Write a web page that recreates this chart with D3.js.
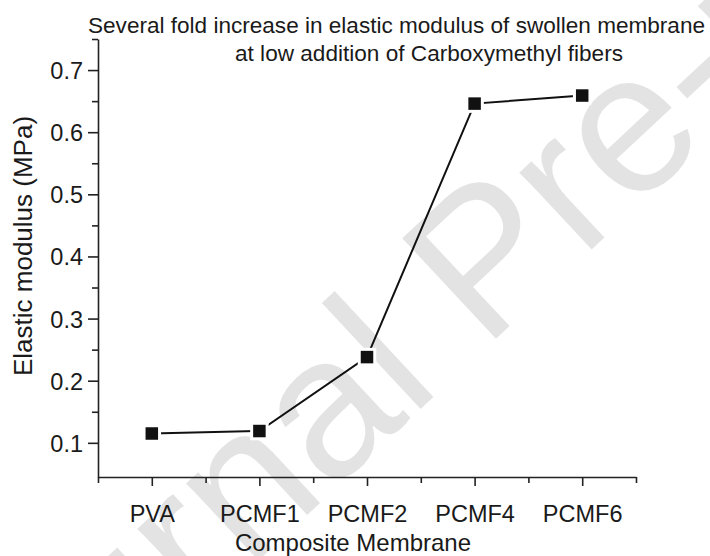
<!DOCTYPE html>
<html>
<head>
<meta charset="utf-8">
<script src="https://cdn.jsdelivr.net/npm/d3@7"></script>
<style>
  body { margin: 0; background: #fff; }
  svg { display: block; font-family: "Liberation Sans", Arial, Helvetica, sans-serif; }
</style>
</head>
<body>
<div id="chart"></div>
<script>
// data
var membranes = ["PVA", "PCMF1", "PCMF2", "PCMF4", "PCMF6"];
var modulus = [0.115, 0.119, 0.238, 0.646, 0.659];
var yTicks = [0.1, 0.2, 0.3, 0.4, 0.5, 0.6, 0.7];
var yMinorTicks = [0.15, 0.25, 0.35, 0.45, 0.55, 0.65, 0.75];
var titleLines = [
  "Several fold increase in elastic modulus of swollen membrane",
  "at low addition of Carboxymethyl fibers"
];
var xTitle = "Composite Membrane";
var yTitle = "Elastic modulus (MPa)";
var watermark = "Journal Pre-proof";

var W = 710, H = 556;
var margin = { top: 39, right: 74, bottom: 79, left: 98 },
  width = W - margin.left - margin.right,
  height = H - margin.top - margin.bottom;

var root = d3
  .select("#chart")
  .append("svg")
  .attr("width", W)
  .attr("height", H);

root.append("rect").attr("width", W).attr("height", H).attr("fill", "#fff");

// light watermark across the figure, drawn first so the chart sits on top
var wm = root
  .append("text")
  .attr("transform", "translate(484,350) rotate(-43)")
  .style("font-size", "200px")
  .attr("fill", "#000")
  .attr("fill-opacity", 0.11)
  .text(watermark);
// put the start of "Pre-proof" at the anchor point
var lead = wm.node().getSubStringLength(0, watermark.indexOf("P"));
wm.attr("x", -lead);

var svg = root
  .append("g")
  .attr("transform", "translate(" + margin.left + "," + margin.top + ")");

var x = d3.scaleLinear().domain([-0.5, membranes.length - 0.5]).range([0, width]);
var y = d3.scaleLinear().domain([0.045, 0.75]).range([height, 0]);

// minor ticks (half positions on x, 0.05 steps on y)
var xMinor = d3.range(-0.5, membranes.length, 1);
svg
  .append("g")
  .attr("class", "minor")
  .attr("transform", "translate(0," + height + ")")
  .call(d3.axisBottom(x).tickValues(xMinor).tickSize(6).tickFormat(""));
svg
  .append("g")
  .attr("class", "minor")
  .call(d3.axisLeft(y).tickValues(yMinorTicks).tickSize(6).tickFormat(""));
svg.selectAll(".minor .domain").remove();

// major axes
var xAxis = svg
  .append("g")
  .attr("transform", "translate(0," + height + ")")
  .call(
    d3
      .axisBottom(x)
      .tickValues(d3.range(membranes.length))
      .tickFormat(function (i) {
        return membranes[i];
      })
      .tickSize(9)
      .tickSizeOuter(0)
      .tickPadding(19)
  );

var yAxis = svg
  .append("g")
  .call(
    d3
      .axisLeft(y)
      .tickValues(yTicks)
      .tickFormat(d3.format(".1f"))
      .tickSize(10)
      .tickSizeOuter(0)
      .tickPadding(5)
  );

svg
  .selectAll(".domain, .tick line")
  .attr("stroke", "#222")
  .attr("stroke-width", 1.6);
svg.selectAll(".tick text").attr("fill", "#1a1a1a").style("font-size", "23.5px");
yAxis.selectAll(".tick text").attr("dy", "0.36em");

// series
var line = d3
  .line()
  .x(function (d, i) {
    return x(i);
  })
  .y(function (d) {
    return y(d);
  });

svg
  .append("path")
  .datum(modulus)
  .attr("d", line)
  .attr("fill", "none")
  .attr("stroke", "#111")
  .attr("stroke-width", 2);

var s = 12.5;
svg
  .selectAll(".pt")
  .data(modulus)
  .enter()
  .append("rect")
  .attr("class", "pt")
  .attr("x", function (d, i) {
    return x(i) - s / 2;
  })
  .attr("y", function (d) {
    return y(d) - s / 2;
  })
  .attr("width", s)
  .attr("height", s)
  .attr("fill", "#111")
  .attr("stroke", "#fff")
  .attr("stroke-width", 6)
  .attr("paint-order", "stroke");

// axis titles
root
  .append("text")
  .attr("x", 353)
  .attr("y", 551)
  .attr("text-anchor", "middle")
  .style("font-size", "24px")
  .attr("fill", "#1a1a1a")
  .text(xTitle);

root
  .append("text")
  .attr("transform", "translate(32,246) rotate(-90)")
  .attr("text-anchor", "middle")
  .style("font-size", "26px")
  .attr("fill", "#1a1a1a")
  .text(yTitle);

// chart title
root
  .append("text")
  .attr("x", 88)
  .attr("y", 33)
  .style("font-size", "22px")
  .attr("textLength", 617)
  .attr("lengthAdjust", "spacingAndGlyphs")
  .attr("fill", "#1a1a1a")
  .text(titleLines[0]);
root
  .append("text")
  .attr("x", 235)
  .attr("y", 61)
  .style("font-size", "22px")
  .attr("textLength", 388)
  .attr("lengthAdjust", "spacingAndGlyphs")
  .attr("fill", "#1a1a1a")
  .text(titleLines[1]);
</script>
</body>
</html>
